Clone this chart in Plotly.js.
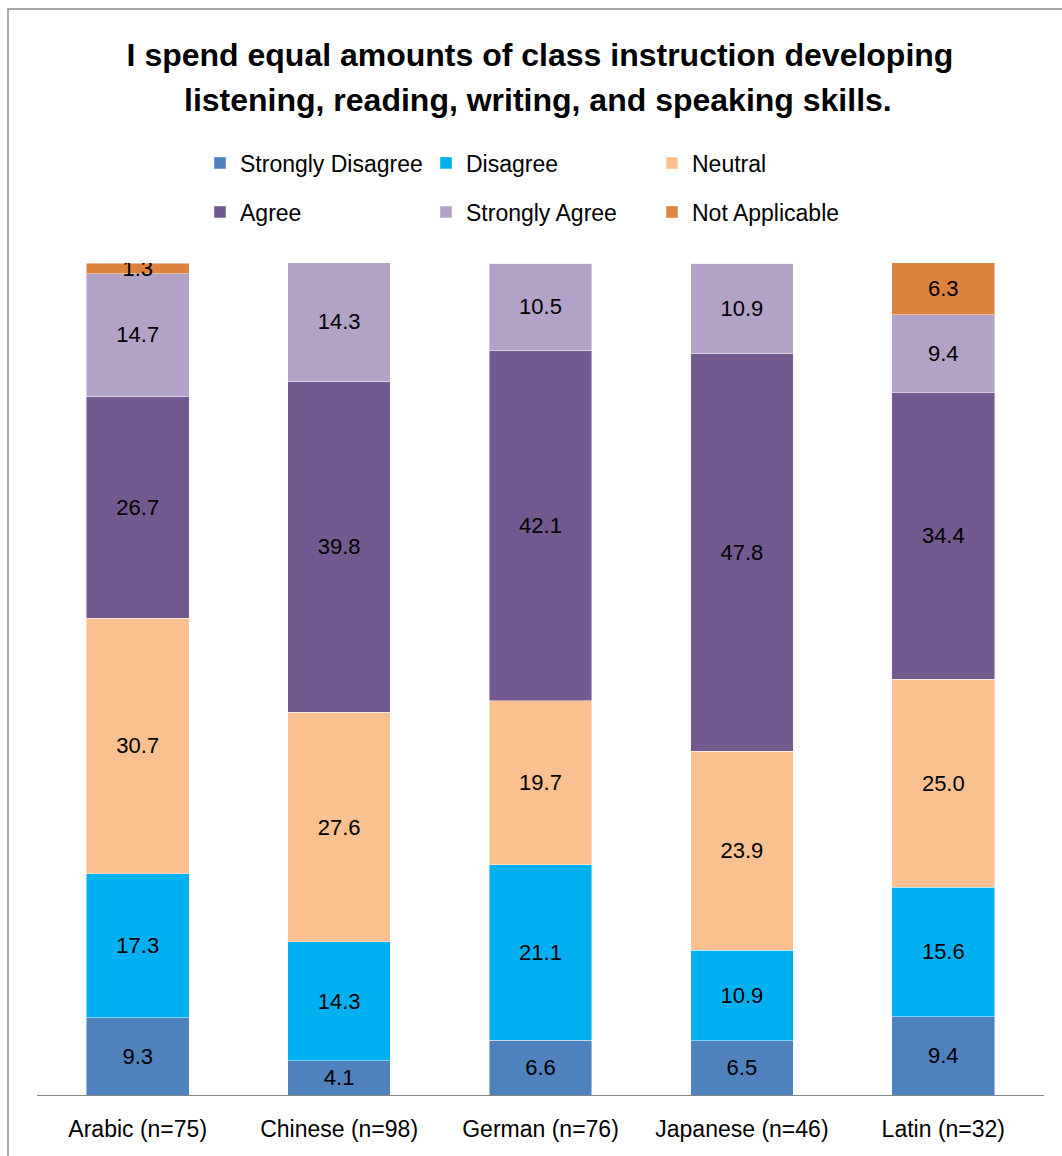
<!DOCTYPE html>
<html>
<head>
<meta charset="utf-8">
<script src="https://cdn.plot.ly/plotly-3.0.1.min.js"></script>
<style>
html, body { margin: 0; padding: 0; background: #fff; }
#chart { width: 1062px; height: 1156px; }
</style>
</head>
<body>
<div id="chart"></div>
<script>
// ---- data ----
const categories = ["Arabic (n=75)", "Chinese (n=98)", "German (n=76)", "Japanese (n=46)", "Latin (n=32)"];
const stronglyDisagree = [9.3, 4.1, 6.6, 6.5, 9.4];
const disagree         = [17.3, 14.3, 21.1, 10.9, 15.6];
const neutral          = [30.7, 27.6, 19.7, 23.9, 25.0];
const agree            = [26.7, 39.8, 42.1, 47.8, 34.4];
const stronglyAgree    = [14.7, 14.3, 10.5, 10.9, 9.4];
const notApplicable    = [1.3, 0, 0, 0, 6.3];

const seriesNames = ["Strongly Disagree", "Disagree", "Neutral", "Agree", "Strongly Agree", "Not Applicable"];
const seriesValues = [stronglyDisagree, disagree, neutral, agree, stronglyAgree, notApplicable];
const seriesColors = ["#4F81BD", "#00B0F0", "#FAC090", "#72598F", "#B3A2C7", "#DE833F"];
const seriesLegend = ["legend", "legend", "legend", "legend2", "legend2", "legend2"];

const FONT = "Liberation Sans, Arial, sans-serif";

const traces = seriesNames.map((name, i) => ({
  type: "bar",
  name: name,
  x: categories,
  y: seriesValues[i],
  text: seriesValues[i].map(v => v > 0 ? v.toFixed(1) : ""),
  textposition: "inside",
  insidetextanchor: "middle",
  textangle: 0,
  constraintext: "none",
  textfont: { family: FONT, size: 22, color: "#000" },
  insidetextfont: { family: FONT, size: 22, color: "#000" },
  marker: { color: seriesColors[i], line: { color: "rgba(255,255,255,0.6)", width: 0.75 } },
  legend: seriesLegend[i],
  hoverinfo: "skip"
}));

// pixel geometry helpers
const W = 1062, H = 1156;
const mL = 37, mR = 18, mT = 263, mB = 61;
const pw = W - mL - mR, ph = H - mT - mB;
const px = x => (x - mL) / pw;
const py = y => (H - mB - y) / ph;

const layout = {
  width: W, height: H,
  margin: { l: mL, r: mR, t: mT, b: mB, pad: 0 },
  paper_bgcolor: "#fff",
  plot_bgcolor: "#fff",
  barmode: "stack",
  bargap: 0.49,
  font: { family: FONT, color: "#000" },
  title: {
    text: "<b>I spend equal amounts of class instruction developing</b>",
    font: { family: FONT, size: 32, color: "#000" },
    x: 540 / W, xanchor: "center", xref: "container",
    y: 1 - 55 / H, yanchor: "middle", yref: "container"
  },
  annotations: [{
    text: "<b>listening, reading, writing, and speaking skills.</b>",
    font: { family: FONT, size: 32, color: "#000" },
    xref: "paper", yref: "paper",
    x: px(538), y: py(100), xanchor: "center", yanchor: "middle",
    showarrow: false
  }],
  xaxis: {
    showline: true, linecolor: "#868686", linewidth: 1,
    ticks: "", showgrid: false, zeroline: false,
    tickfont: { family: FONT, size: 23, color: "#000" },
    ticklabelstandoff: 13,
    fixedrange: true
  },
  yaxis: { visible: false, range: [0, 100], fixedrange: true },
  legend: {
    orientation: "h", traceorder: "normal",
    x: px(200), xanchor: "left", y: py(163), yanchor: "middle",
    entrywidth: 181, entrywidthmode: "pixels",
    font: { family: FONT, size: 23, color: "#000" },
    bgcolor: "rgba(0,0,0,0)", borderwidth: 0
  },
  legend2: {
    orientation: "h", traceorder: "normal",
    x: px(200), xanchor: "left", y: py(212), yanchor: "middle",
    entrywidth: 181, entrywidthmode: "pixels",
    font: { family: FONT, size: 23, color: "#000" },
    bgcolor: "rgba(0,0,0,0)", borderwidth: 0
  },
  shapes: [{
    type: "rect", xref: "paper", yref: "paper",
    x0: px(8), x1: px(1080), y0: py(1180), y1: py(9),
    line: { color: "#8A8A8A", width: 1.5 }, fillcolor: "rgba(0,0,0,0)", layer: "below"
  }],
  showlegend: true
};

Plotly.newPlot("chart", traces, layout, { staticPlot: true, displayModeBar: false });
</script>
</body>
</html>
